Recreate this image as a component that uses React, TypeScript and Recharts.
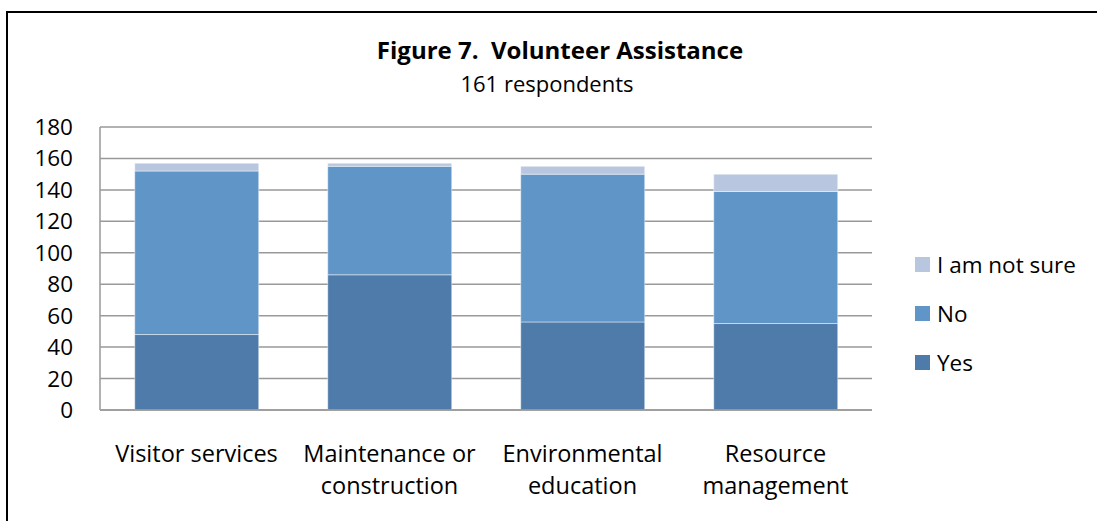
import React from 'react';
import { BarChart, Bar, XAxis, YAxis, CartesianGrid } from 'recharts';

const categories = ['Visitor services', 'Maintenance or construction', 'Environmental education', 'Resource management'];
const tickLines: Record<string, string[]> = {
  'Visitor services': ['Visitor services'],
  'Maintenance or construction': ['Maintenance or', 'construction'],
  'Environmental education': ['Environmental', 'education'],
  'Resource management': ['Resource', 'management'],
};
const yes = [48, 86, 56, 55];
const no = [104, 69, 94, 84];
const notSure = [5, 2, 5, 11];
const yTicks = [0, 20, 40, 60, 80, 100, 120, 140, 160, 180];

const series = [
  { key: 'yes', name: 'Yes', color: '#4f7bab' },
  { key: 'no', name: 'No', color: '#6095c8' },
  { key: 'notSure', name: 'I am not sure', color: '#b8c6df' },
];

const data = categories.map((c, i) => ({ name: c, yes: yes[i], no: no[i], notSure: notSure[i] }));

const FONT = '"Open Sans", "Noto Sans", sans-serif';

const XTick = (props: any) => {
  const { x, y, payload } = props;
  const lines = tickLines[payload.value] || [payload.value];
  return (
    <text x={x} y={y} textAnchor="middle" fontFamily={FONT} fontSize={23.5} fill="#000">
      {lines.map((l, i) => (
        <tspan key={i} x={x} dy={i === 0 ? 50 : 32}>{l}</tspan>
      ))}
    </text>
  );
};

export default function App() {
  return (
    <div style={{ position: 'absolute', left: 0, top: 0, width: 1097, height: 521, overflow: 'hidden', background: '#fff' }}>
      <div style={{ position: 'absolute', left: 6, top: 11, width: 1200, height: 600, border: '2px solid #000' }} />
      <div style={{ position: 'absolute', left: 0, width: 1120, top: 35, lineHeight: '30px', textAlign: 'center', fontFamily: FONT, fontWeight: 700, fontSize: 24, color: '#000' }}>
        Figure 7.&nbsp; Volunteer Assistance
      </div>
      <div style={{ position: 'absolute', left: 0, width: 1094, top: 69, lineHeight: '28px', textAlign: 'center', fontFamily: FONT, fontSize: 22, color: '#000' }}>
        161 respondents
      </div>
      <BarChart
        width={1097}
        height={521}
        data={data}
        margin={{ top: 127, right: 225, bottom: 0, left: 0 }}
        barCategoryGap="18%"
        style={{ position: 'absolute', left: 0, top: 0 }}
      >
        <CartesianGrid vertical={false} stroke="#999999" strokeWidth={1.5} />
        <XAxis
          dataKey="name"
          tick={<XTick />}
          tickLine={false}
          axisLine={{ stroke: '#999999', strokeWidth: 1.5 }}
          tickSize={0}
          interval={0}
          height={111}
        />
        <YAxis
          width={100}
          domain={[0, 180]}
          ticks={yTicks}
          interval={0}
          tickLine={false}
          tickSize={0}
          tickMargin={27}
          axisLine={{ stroke: '#999999', strokeWidth: 1.5 }}
          tick={{ fontFamily: FONT, fontSize: 22.5, fill: '#000' }}
        />
        {series.map((s) => (
          <Bar
            key={s.key}
            dataKey={s.key}
            name={s.name}
            stackId="a"
            fill={s.color}
            stroke="#ffffff"
            strokeOpacity={0.45}
            strokeWidth={1}
            isAnimationActive={false}
          />
        ))}
      </BarChart>
      <div style={{ position: 'absolute', left: 915, top: 240, fontFamily: FONT, fontSize: 22.5, color: '#000' }}>
        {[...series].reverse().map((s) => (
          <div key={s.key} style={{ display: 'flex', alignItems: 'center', height: 49 }}>
            <span style={{ width: 15, height: 15, background: s.color, display: 'inline-block', marginRight: 7 }} />
            <span>{s.name}</span>
          </div>
        ))}
      </div>
    </div>
  );
}
